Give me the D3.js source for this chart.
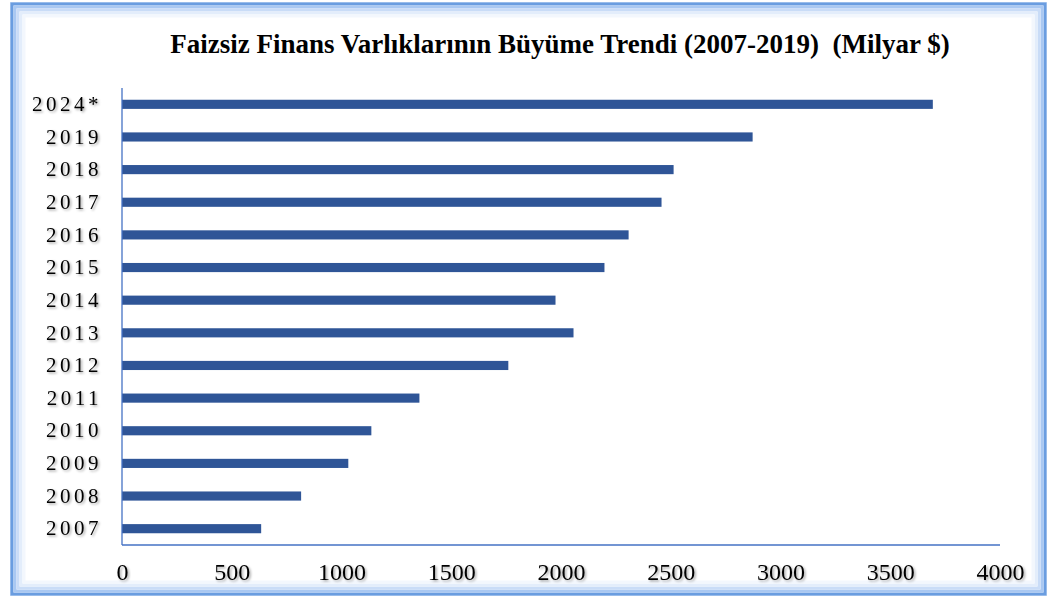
<!DOCTYPE html>
<html><head><meta charset="utf-8">
<script src="https://cdn.jsdelivr.net/npm/d3@7"></script>
<style>body{margin:0;background:#fff}svg{display:block}</style>
</head><body>
<svg id="c" width="1054" height="600"></svg>
<script>
const categories = ["2024*","2019","2018","2017","2016","2015","2014","2013","2012","2011","2010","2009","2008","2007"];
const values = [3694,2873,2513,2458,2308,2198,1975,2057,1760,1355,1136,1031,816,634];
const xTicks = [0,500,1000,1500,2000,2500,3000,3500,4000];
const title = "Faizsiz Finans Varlıklarının Büyüme Trendi (2007-2019)  (Milyar $)";

const svg = d3.select("#c");
const defs = svg.append("defs");
const f = defs.append("filter").attr("id","sh").attr("x","-10%").attr("y","-20%").attr("width","130%").attr("height","150%");
f.append("feDropShadow").attr("dx",1.5).attr("dy",1.5).attr("stdDeviation",1).attr("flood-color","#000").attr("flood-opacity",0.35);

// frame with glow
const fx=12, fy=4, fw=1033, fh=590;
svg.append("rect").attr("x",fx-2).attr("y",fy-2).attr("width",fw+4).attr("height",fh+4).attr("fill","#c8dbf5");
svg.append("rect").attr("x",fx).attr("y",fy).attr("width",fw).attr("height",fh).attr("fill","#fff").attr("stroke","#6a9de0").attr("stroke-width",3);
const glow=[["#a9c8f2",3],["#c9dcf7",3],["#e3edfb",3],["#f3f7fd",3]];
glow.forEach((g,i)=>{
  const o=1.5+g[1]*i+g[1]/2;
  svg.append("rect").attr("x",fx+o).attr("y",fy+o).attr("width",fw-2*o).attr("height",fh-2*o)
    .attr("fill","none").attr("stroke",g[0]).attr("stroke-width",g[1]);
});

const x0=122, x1=1000, y0=88, y1=545;
const x = d3.scaleLinear().domain([0,4000]).range([x0,x1]);
const y = d3.scaleBand().domain(categories).range([y0,y1]).paddingInner(0.72).paddingOuter(0.36);

svg.append("text").attr("x",560).attr("y",53).attr("text-anchor","middle")
  .style("white-space","pre")
  .style("font-family","'Liberation Serif','Times New Roman',serif").style("font-weight","bold").style("font-size","27px")
  .attr("fill","#000").text(title);

svg.append("g").selectAll("rect").data(categories).join("rect")
  .attr("x",x(0)).attr("y",d=>y(d)).attr("height",y.bandwidth())
  .attr("width",(d,i)=>x(values[i])-x(0)).attr("fill","#2f5597");

// axis lines
svg.append("line").attr("x1",x0).attr("x2",x0).attr("y1",y0).attr("y2",y1).attr("stroke","#4472c4").attr("stroke-width",1.3);
svg.append("line").attr("x1",x0).attr("x2",x1).attr("y1",y1).attr("y2",y1).attr("stroke","#4472c4").attr("stroke-width",1.3);

// x ticks labels
const xAxis = svg.append("g").attr("transform",`translate(0,${y1})`).call(d3.axisBottom(x).tickValues(xTicks).tickFormat(d3.format("d")).tickSize(0).tickPadding(18));
xAxis.select(".domain").remove();
xAxis.selectAll("text").style("font-family","'Liberation Serif','Times New Roman',serif").style("font-size","24px").attr("fill","#000").attr("filter","url(#sh)");

// y labels
const yAxis = svg.append("g").attr("transform",`translate(${x0},0)`).call(d3.axisLeft(y).tickSize(0).tickPadding(20));
yAxis.select(".domain").remove();
yAxis.selectAll("text").style("font-family","'Liberation Serif','Times New Roman',serif").style("font-size","21px").attr("fill","#000")
  .style("letter-spacing","3.5px").attr("filter","url(#sh)");
</script>
</body></html>
